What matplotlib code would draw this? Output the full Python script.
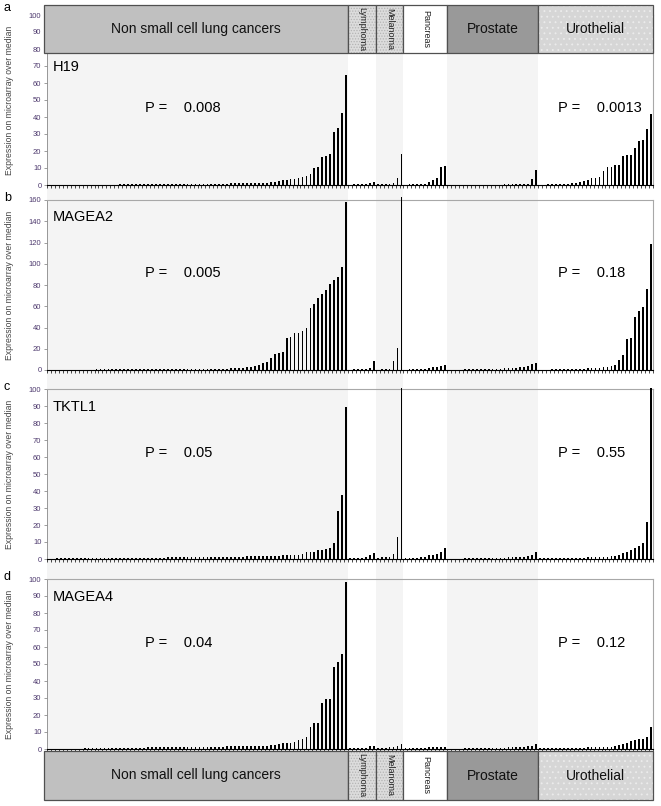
import numpy as np
import matplotlib
matplotlib.use("Agg")
import matplotlib.pyplot as plt
from matplotlib.patches import Rectangle

plt.rcParams["font.family"] = ["Liberation Sans", "DejaVu Sans"]
plt.rcParams["hatch.linewidth"] = 0.6

# ---------------- data ----------------
groups = ["Non small cell lung cancers", "Lymphoma", "Melanoma", "Pancreas", "Prostate", "Urothelial"]
group_sizes = [76, 7, 7, 11, 23, 29]

genes = ["H19", "MAGEA2", "TKTL1", "MAGEA4"]
panel_letters = ["a", "b", "c", "d"]
p_left = ["0.008", "0.005", "0.05", "0.04"]
p_right = ["0.0013", "0.18", "0.55", "0.12"]
y_max = [100, 160, 100, 100]
y_step = [10, 20, 10, 10]

h19 = (
    # NSCLC
    [0] * 18
    + [0.4, 0.4, 0.4, 0.4, 0.5, 0.5, 0.5, 0.5, 0.5, 0.5, 0.5, 0.5, 0.6, 0.6, 0.6, 0.6, 0.6, 0.6, 0.6,
       0.6, 0.7, 0.7, 0.7, 0.7, 0.8, 0.8, 0.8, 0.8, 0.9, 0.9, 0.9, 1.0, 1.0, 1.0, 1.1, 1.1, 1.2, 1.3]
    + [1.5, 2, 2.5, 2.8, 3, 3.3, 3.8, 4, 5, 5.5, 6.3, 10, 10.3, 16.3, 17, 18.2, 31, 33.7, 42.5, 64.7]
    # Lymphoma, Melanoma, Pancreas
    + [0.2, 0.3, 0.3, 0.3, 0.4, 1.2, 1.5]
    + [0.3, 0.4, 0.5, 0.8, 1.0, 4.0, 18.0]
    + [0.2, 0.3, 0.3, 0.4, 0.5, 0.8, 1.8, 2.9, 4.1, 10.4, 11.2]
    # Prostate
    + [0] * 12 + [0.2, 0.2, 0.3, 0.3, 0.3, 0.4, 0.4, 0.5, 0.6, 3.5, 8.8]
    # Urothelial
    + [0.2, 0.2, 0.3, 0.3, 0.4, 0.5, 0.6, 0.7, 0.9, 1.0, 1.5, 2.2, 2.9, 3.9, 4.3, 4.5, 8.2, 10.4, 10.8,
       11.5, 11.8, 17.3, 17.5, 17.6, 22.0, 26.0, 26.5, 33.0, 41.6]
)

magea2 = (
    [0.3, 0.3, 0.3, 0.3, 0.3, 0.3, 0.4, 0.4, 0.4, 0.4, 0.4, 0.4, 0.5, 0.5, 0.5, 0.5, 0.5, 0.5, 0.6, 0.6,
     0.6, 0.6, 0.6, 0.7, 0.7, 0.7, 0.7, 0.7, 0.8, 0.8, 0.8, 0.8, 0.9, 0.9, 0.9, 0.9, 1.0, 1.0, 1.0, 1.1,
     1.2, 1.2, 1.2, 1.3, 1.4, 1.4, 1.6, 1.6, 1.9, 2.2]
    + [2.5, 3.2, 3.8, 4.7, 6.3, 7.9, 11, 15, 16, 17, 30.2, 31.1, 34.6, 35.2, 37.1, 39.3, 58.8, 62, 68.2,
       71.4, 75.5, 80.8, 85, 87.4, 96.9, 157.9]
    + [0.4, 0.5, 0.6, 0.8, 1.2, 2.0, 8.5]
    + [0.3, 0.5, 0.8, 1.0, 8.8, 21.0, 163.0]
    + [0.4, 0.5, 0.7, 0.9, 1.1, 1.4, 1.8, 2.4, 3.0, 3.8, 4.6]
    + [0.3, 0.3, 0.4, 0.4, 0.5, 0.5, 0.6, 0.6, 0.7, 0.8, 0.9, 1.0, 1.1, 1.3, 1.5, 1.7, 2.0, 2.3, 2.7,
       3.0, 3.5, 5.5, 6.8]
    + [0.3, 0.3, 0.4, 0.5, 0.5, 0.6, 0.7, 0.8, 0.9, 1.0, 1.2, 1.4, 1.6, 1.8, 2.0, 2.3, 2.6, 3.0, 3.5,
       5.0, 9.4, 14.1, 29.0, 30.5, 50.3, 56.0, 59.7, 76.4, 118.9]
)

tktl1 = (
    [0.2, 0.2, 0.3, 0.3, 0.3, 0.3, 0.3, 0.4, 0.4, 0.4, 0.4, 0.4, 0.5, 0.5, 0.5, 0.5, 0.5, 0.6, 0.6, 0.6,
     0.6, 0.6, 0.7, 0.7, 0.7, 0.7, 0.8, 0.8, 0.8, 0.8, 0.9, 0.9, 0.9, 1.0, 1.0, 1.0, 1.0, 1.1, 1.1, 1.1,
     1.1, 1.2, 1.2, 1.2, 1.3, 1.3, 1.3, 1.4, 1.4, 1.4, 1.5, 1.5, 1.6, 1.6, 1.7, 1.7, 1.8, 1.9, 2.0, 2.1,
     2.2, 2.3, 2.4, 2.5, 2.7]
    + [3.9, 4.1, 4.3, 5.1, 5.5, 5.9, 6.3, 9.2, 28.4, 37.6, 89.6]
    + [0.4, 0.5, 0.6, 0.8, 1.2, 2.4, 3.3]
    + [0.6, 0.9, 1.0, 1.4, 2.8, 13.1, 100.5]
    + [0.4, 0.5, 0.6, 0.8, 1.0, 1.2, 2.2, 2.4, 2.7, 3.9, 6.7]
    + [0] * 4 + [0.3, 0.4, 0.4, 0.5, 0.5, 0.6, 0.6, 0.7, 0.7, 0.8, 0.8, 0.9, 1.0, 1.1, 1.2, 1.4, 1.8,
                 2.2, 4.1]
    + [0.3, 0.3, 0.4, 0.4, 0.5, 0.5, 0.6, 0.6, 0.7, 0.7, 0.8, 0.8, 0.9, 1.0, 1.1, 1.2, 1.3, 1.4, 1.6,
       1.9, 2.3, 3.3, 4.3, 5.5, 6.3, 7.6, 9.2, 21.6, 100.5]
)

magea4 = (
    [0] * 9
    + [0.4, 0.4, 0.5, 0.5, 0.5, 0.6, 0.6, 0.6, 0.7, 0.7, 0.7, 0.7, 0.8, 0.8, 0.8, 0.8, 0.9, 0.9, 0.9,
       0.9, 1.0, 1.0, 1.0, 1.0, 1.1, 1.1, 1.1, 1.2, 1.2, 1.2, 1.3, 1.3, 1.3, 1.4, 1.4, 1.4, 1.5, 1.5,
       1.5, 1.6, 1.6, 1.6, 1.7, 1.7, 1.8, 1.9, 2.0]
    + [2.2, 2.5, 2.9, 3.3, 3.5, 3.7, 4.1, 5.1, 5.9, 7.3, 13.1, 15.5, 15.5, 26.9, 29.2, 29.4, 48.2,
       51.4, 55.9, 98.0]
    + [0.3, 0.4, 0.5, 0.6, 0.8, 1.5, 2.0]
    + [0.4, 0.5, 0.7, 0.9, 1.0, 1.5, 2.9]
    + [0.3, 0.4, 0.5, 0.6, 0.7, 0.8, 0.9, 1.0, 1.1, 1.2, 1.3]
    + [0] * 4 + [0.3, 0.4, 0.4, 0.5, 0.5, 0.6, 0.6, 0.7, 0.7, 0.8, 0.8, 0.9, 1.0, 1.1, 1.2, 1.4, 1.6,
                 2.0, 2.7]
    + [0.3, 0.3, 0.4, 0.4, 0.5, 0.5, 0.6, 0.6, 0.7, 0.7, 0.8, 0.8, 0.9, 0.9, 1.0, 1.0, 1.1, 1.2, 1.4,
       1.7, 2.2, 2.9, 3.7, 4.7, 5.3, 5.7, 6.1, 7.3, 13.1]
)

series = [h19, magea2, tktl1, magea4]

# ---------------- styles ----------------
W, H = 661, 806
col_shade = ["#f4f4f4", "white", "#f4f4f4", "white", "#f4f4f4", "white"]
head_face = ["#c0c0c0", "#dcdcdc", "#dcdcdc", "white", "#999999", "#d6d6d6"]
head_hatch = [None, "......", "......", None, None, "..."]
head_hatch_col = [None, "#b4b4b4", "#b4b4b4", None, None, "#ececec"]
tick_col = "#4e3a6e"

n = sum(group_sizes)
starts = np.concatenate([[0], np.cumsum(group_sizes)[:-1]])
x = np.arange(n)

fig = plt.figure(figsize=(W / 100, H / 100), dpi=100)


def ax_at(l, t, r, b):
    return fig.add_axes([l / W, 1 - b / H, (r - l) / W, (b - t) / H])


AX_L, AX_R = 47, 653
step = (AX_R - AX_L) / n

# column shading behind everything
bg = ax_at(AX_L, 53, AX_R, 752)
bg.set_xlim(-0.5, n - 0.5)
bg.set_ylim(0, 1)
bg.axis("off")
for s, size, c in zip(starts, group_sizes, col_shade):
    bg.axvspan(s - 0.5, s + size - 0.5, color=c, lw=0)

panel_px = [(15, 185), (200, 370), (389, 559), (579, 749)]
gene_y = [0.694, 0.90, 0.894, 0.894]
p_y = [0.453, 0.571, 0.624, 0.624]

for i, (top, bot) in enumerate(panel_px):
    ax = ax_at(AX_L, top, AX_R, bot)
    ax.set_facecolor("none")
    ax.bar(x, series[i], width=0.45, color="black", clip_on=False, zorder=3)
    ax.set_xlim(-0.5, n - 0.5)
    ax.set_ylim(0, y_max[i])
    ax.set_yticks(np.arange(0, y_max[i] + 1, y_step[i]))
    ax.set_xticks([])
    ax.set_xticks(np.arange(-0.5, n, 1), minor=True)
    ax.tick_params(axis="x", which="minor", direction="out", length=2.5, width=0.5, color="black")
    ax.tick_params(axis="y", direction="out", length=2, width=0.5, color="#777777",
                   labelsize=5.5, labelcolor=tick_col, pad=2)
    for side in ["top", "right"]:
        ax.spines[side].set_color("#a8a8a8")
        ax.spines[side].set_linewidth(0.8)
    ax.spines["left"].set_color("#888888")
    ax.spines["left"].set_linewidth(0.6)
    ax.spines["bottom"].set_color("black")
    ax.spines["bottom"].set_linewidth(0.8)
    ax.set_ylabel("Expression on microarray over median", fontsize=6.2, color="#444444")
    ax.yaxis.set_label_coords(-0.055, 0.5)

    ax.text(0.01, gene_y[i], genes[i], transform=ax.transAxes, fontsize=10.5,
            ha="left", va="center")
    ax.text(0.162, p_y[i], "P =    " + p_left[i], transform=ax.transAxes, fontsize=10.5,
            ha="left", va="center")
    ax.text(0.843, p_y[i], "P =    " + p_right[i], transform=ax.transAxes, fontsize=10.5,
            ha="left", va="center")
    fig.text(4 / W, 1 - (top - 8) / H if i else 1 - 2 / H, panel_letters[i],
             fontsize=9, ha="left", va="top")


def draw_header(top, bot):
    hx = ax_at(44, top, AX_R, bot)
    hx.set_xlim(-0.5 - (AX_L - 44) / step, n - 0.5)
    hx.set_ylim(0, 1)
    hx.axis("off")
    for j, (s, size) in enumerate(zip(starts, group_sizes)):
        x0 = s - 0.5 if j else -0.5 - (AX_L - 44) / step
        w = s + size - 0.5 - x0
        hx.add_patch(Rectangle((x0, 0), w, 1, facecolor=head_face[j], lw=0))
        if head_hatch[j]:
            hx.add_patch(Rectangle((x0, 0), w, 1, facecolor="none", hatch=head_hatch[j],
                                   edgecolor=head_hatch_col[j], lw=0))
        hx.add_patch(Rectangle((x0, 0), w, 1, facecolor="none", edgecolor="#505050",
                               lw=0.9, clip_on=False))
        cx = x0 + w / 2
        if size > 15:
            hx.text(cx, 0.5, groups[j], fontsize=10, ha="center", va="center", color="#111111")
        else:
            hx.text(cx, 0.5, groups[j], fontsize=6.5, rotation=270, ha="center", va="center",
                    color="#222222")


draw_header(5, 53)
draw_header(751, 800)

fig.savefig("out.png", dpi=100)
